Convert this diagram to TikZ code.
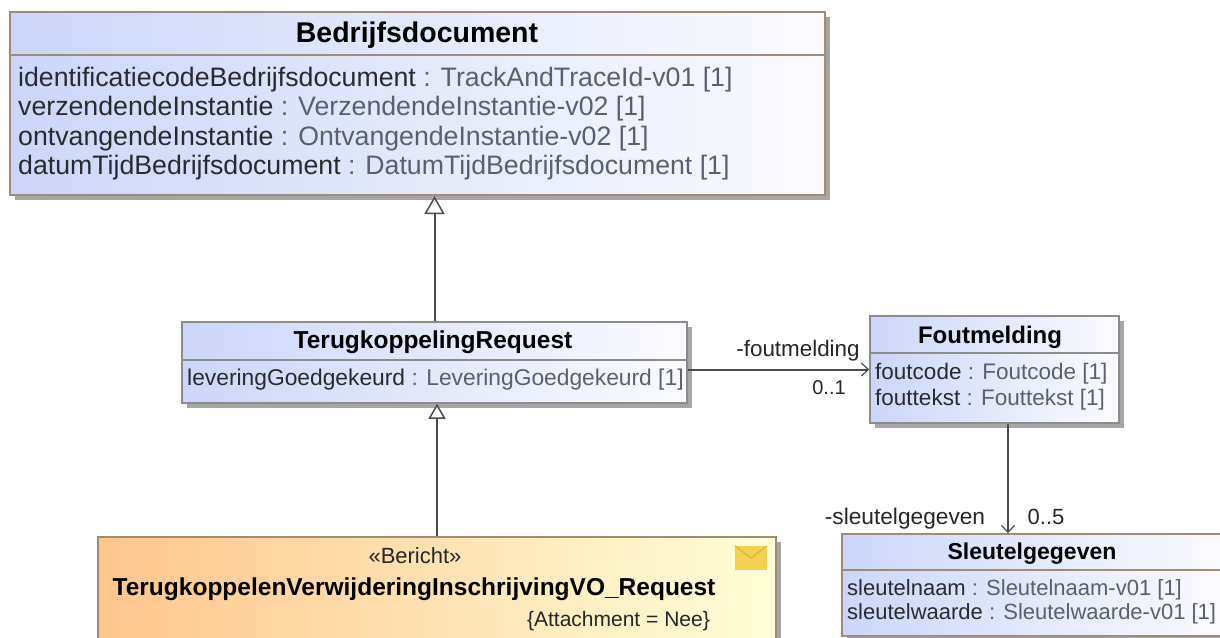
\documentclass[tikz,border=0pt]{standalone}
\usepackage{fontspec}
\setmainfont{Liberation Sans}
\usetikzlibrary{arrows.meta,shadows}
\definecolor{boxline}{HTML}{A08A78}
\definecolor{boxgrey}{HTML}{8C8C8C}
\definecolor{boxblue}{HTML}{CCD6FA}
\definecolor{boxpale}{HTML}{FBFBFE}
\definecolor{attrtype}{HTML}{5A6070}
\definecolor{attrname}{HTML}{2A2A30}
\definecolor{envfill}{HTML}{F2D24E}
\definecolor{envflap}{HTML}{DDB23A}
\tikzset{
    classbox/.style={draw=boxgrey, line width=1.5pt, left color=boxblue, right color=boxpale, drop shadow={shadow xshift=5pt, shadow yshift=-5pt, fill=black, opacity=0.35}, minimum width=#1, inner sep=0pt},
    title/.style={inner sep=0pt, text=black, font=\bfseries\fontsize{#1}{#1}\selectfont},
    attr/.style 2 args={align=left, anchor=north west, inner sep=0pt, text=attrtype, font=\fontsize{#1}{#2}\selectfont},
    rolelabel/.style={inner sep=0pt, text=black!85, font=\fontsize{#1}{#1}\selectfont},
    generalize/.style 2 args={draw=black!70, line width=2pt, -{Triangle[open, fill=white, line width=1.5pt, length=#1, width=#2]}},
    assoc/.style={draw=black!70, line width=2pt, -{Straight Barb[length=7pt, width=13pt, line width=1.2pt]}},
    divider/.style={line width=1.5pt}
}
\newcommand{\attrline}[2]{\textcolor{attrname}{#1} : #2 [1]}
\begin{document}
\begin{tikzpicture}[x=1pt, y=-1pt]
    \useasboundingbox (0,0) rectangle (1220,637);
    \clip (0,0) rectangle (1220,637);
    % classes
    \node[classbox=815pt, minimum height=183pt, draw=boxline, line width=2pt] (bedrijf) at (417.5,103.5) {};
    \node[classbox=505pt, minimum height=81pt] (terug) at (434.5,362.5) {};
    \node[classbox=249pt, minimum height=107pt] (fout) at (994.5,369.5) {};
    \node[classbox=382pt, minimum height=102pt, draw=boxline] (sleutel) at (1033,585) {};
    \node[classbox=678pt, minimum height=130pt, draw=boxline, left color=orange!45!white, right color=yellow!15!white] (bericht) at (437,602) {};
    % dividers
    \draw[divider, boxline] (10,55) -- (825,55);
    \draw[divider, boxgrey] (182,360) -- (687,360);
    \draw[divider, boxgrey] (870,353) -- (1119,353);
    \draw[divider, boxline] (842,570) -- (1220,570);
    % titles
    \node[title=28.5] (bedrijftitle) at (417,35) {Bedrijfsdocument};
    \node[title=24.5] (terugtitle) at (433,342.5) {TerugkoppelingRequest};
    \node[title=24] (fouttitle) at (990,337) {Foutmelding};
    \node[title=23] (sleuteltitle) at (1032,554) {Sleutelgegeven};
    \node[title=24.5] (berichttitle) at (414,589) {TerugkoppelenVerwijderingInschrijvingVO\_Request};
    \node[rolelabel=22] (stereotype) at (415,556) {«Bericht»};
    \node[rolelabel=21, anchor=east] (tagged) at (710,621) {\{Attachment = Nee\}};
    % attributes
    \node[attr={26.7}{29.3}] (bedrijfattr) at (18,67) {\attrline{identificatiecodeBedrijfsdocument}{TrackAndTraceId-v01}\\
        \attrline{verzendendeInstantie}{VerzendendeInstantie-v02}\\
        \attrline{ontvangendeInstantie}{OntvangendeInstantie-v02}\\
        \attrline{datumTijdBedrijfsdocument}{DatumTijdBedrijfsdocument}};
    \node[attr={22.8}{25}] (terugattr) at (187,369) {\attrline{leveringGoedgekeurd}{LeveringGoedgekeurd}};
    \node[attr={22.5}{25.5}] (foutattr) at (875,363) {\attrline{foutcode}{Foutcode}\\
        \attrline{fouttekst}{Fouttekst}};
    \node[attr={22}{24}] (sleutelattr) at (847,579) {\attrline{sleutelnaam}{Sleutelnaam-v01}\\
        \attrline{sleutelwaarde}{Sleutelwaarde-v01}};
    % envelope
    \node[fill=envfill, minimum width=32pt, minimum height=24pt, inner sep=0pt] (envelope) at (751,558) {};
    \draw[envflap, line width=1pt] (envelope.north west) -- (envelope.center) -- (envelope.north east);
    % connectors
    \draw[generalize={18pt}{20pt}] (terug.north) -- (terug.north |- bedrijf.south);
    \draw[generalize={15pt}{17pt}] (bericht.north) -- (bericht.north |- terug.south);
    \draw[assoc] (terug.east |- fout.west) -- (fout.west);
    \draw[assoc] ([xshift=13.5pt]fout.south) -- ([xshift=13.5pt]fout.south |- sleutel.north);
    % role labels
    \node[rolelabel=22.4] (foutrole) at (798,351) {-foutmelding};
    \node[rolelabel=20] (foutmult) at (829,388) {0..1};
    \node[rolelabel=22.7] (sleutelrole) at (905,519) {-sleutelgegeven};
    \node[rolelabel=22] (sleutelmult) at (1046,517) {0..5};
\end{tikzpicture}
\end{document}
